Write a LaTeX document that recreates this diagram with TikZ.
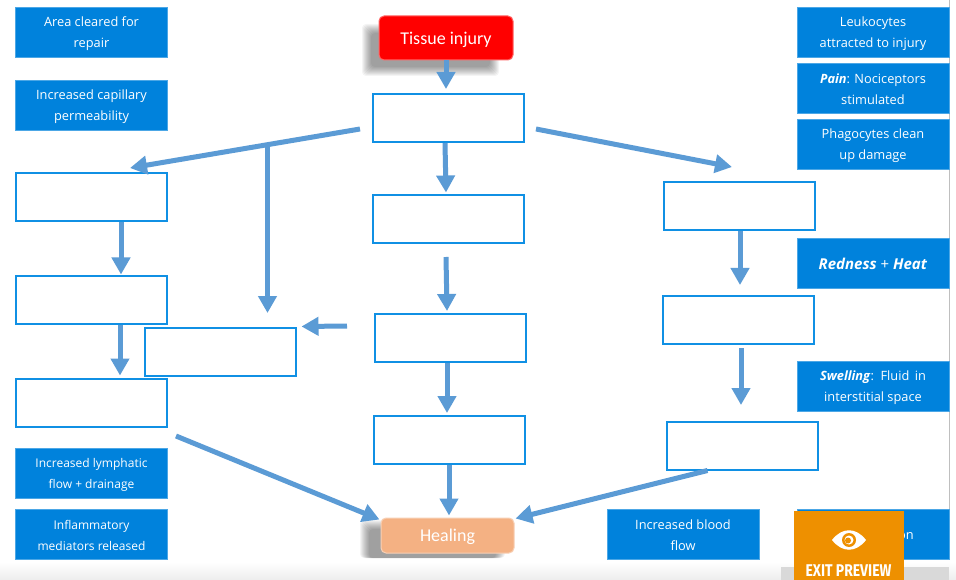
\documentclass[tikz,border=0pt]{standalone}
\usepackage{fontspec}
\setmainfont{Open Sans}
\newfontfamily\calibrifont{Carlito}
\newfontfamily\exitfont{Fira Sans}
\usepackage{tikz}
\usetikzlibrary{arrows.meta}
\definecolor{panelblue}{HTML}{0082DC}
\definecolor{edgeblue}{HTML}{1090E4}
\definecolor{arrowblue}{HTML}{5B9BD5}
\definecolor{exitorange}{HTML}{EE9000}
\definecolor{healpeach}{HTML}{F4B183}
\tikzset{
  plainblue/.style={fill=panelblue,draw=panelblue!70!white,line width=0.4pt,text=white,minimum width=152pt,minimum height=49.5pt,inner sep=0pt,align=center,font=\fontsize{12.8}{21}\selectfont},
  bluebox/.style={plainblue,execute at begin node={\rule{0pt}{33.5pt}}},
  smallblue/.style={bluebox,font=\fontsize{12}{21}\selectfont},
  emptybox/.style={draw=edgeblue,fill=white,line width=2pt,minimum width=151pt,minimum height=48pt,inner sep=0pt},
  flowarrow/.style={draw=arrowblue,line width=5pt,-{Triangle[length=17pt,width=18pt]}},
  startbox/.style={rounded corners=5pt,draw=#1!60!white,fill=#1,line width=1pt,text=white,inner sep=0pt,font=\calibrifont\fontsize{18}{20}\selectfont},
}
\begin{document}
\begin{tikzpicture}[x=1pt,y=-1pt]
\useasboundingbox (0,0) rectangle (956,580);

% Page background
\fill[white] (0,0) rectangle (956,580);
\shade[top color=white,bottom color=black!7] (0,562) rectangle (956,580);
\fill[black!15] (781,567) rectangle (949,580);
\draw[black!25,line width=1pt] (949,0) -- (949,512);

% Shadows
\foreach \i in {0,1,...,9} {
  \fill[black,opacity=0.045,rounded corners=4pt] (362+\i,24+\i) rectangle (499-\i,76-\i);
  \fill[black,opacity=0.045,rounded corners=4pt] (360+\i,520+\i) rectangle (505-\i,558);
}

% Side labels
\node[bluebox] (cleared) at (91.5,32) {Area cleared for\\repair};
\node[bluebox] (capillary) at (91.5,105) {Increased capillary\\permeability};
\node[smallblue] (lymphatic) at (91.5,473) {Increased lymphatic\\flow + drainage};
\node[smallblue] (mediators) at (91.5,534) {Inflammatory\\mediators released};
\node[bluebox] (bloodflow) at (683,534) {Increased blood\\flow};
\node[bluebox] (leukocytes) at (873,32) {Leukocytes\\attracted to injury};
\node[bluebox] (pain) at (873,88) {\textbf{\textit{Pain}}: Nociceptors\\stimulated};
\node[bluebox] (phagocytes) at (873,144) {Phagocytes clean\\up damage};
\node[plainblue,font=\fontsize{15}{21}\selectfont] (redness) at (873,263) {\rule{0pt}{13.5pt}\textbf{\textit{Redness}} + \textbf{\textit{Heat}}};
\node[bluebox] (swelling) at (873,386) {\textbf{\textit{Swelling}}:\, Fluid\, in\\interstitial space};
\node[plainblue] (hidden) at (873,534) {};
\node[text=white,font=\fontsize{12.8}{21}\selectfont] (hiddentext) at (906,536) {on};

% Start and end
\node[startbox=red,minimum width=134pt,minimum height=44pt] (injury) at (446,38) {\rule{0pt}{17pt}Tissue injury};
\node[startbox=healpeach,minimum width=133pt,minimum height=35pt] (healing) at (447.5,535.5) {\rule{0pt}{14.5pt}Healing};

% Empty boxes
\node[emptybox] (top) at (448.5,118) {};
\node[emptybox] (midA) at (448.5,219.5) {};
\node[emptybox] (midB) at (450.5,338) {};
\node[emptybox] (midC) at (449.5,440) {};
\node[emptybox] (leftA) at (91,197.5) {};
\node[emptybox] (leftB) at (91,299.5) {};
\node[emptybox] (leftC) at (91,402.5) {};
\node[emptybox] (leftD) at (220,351.5) {};
\node[emptybox] (rightA) at (739.5,206.5) {};
\node[emptybox] (rightB) at (738.5,319.5) {};
\node[emptybox] (rightC) at (742.5,445.5) {};

% Free arrow ends
\coordinate (fanL) at (360,129);
\coordinate (fanLtip) at (130,168);
\coordinate (branch) at (267.5,145);
\coordinate (branchtip) at (267.5,313);
\coordinate (fanR) at (536,129);
\coordinate (fanRtip) at (732,167);
\coordinate (midBin) at (446,257);
\coordinate (leftDin) at (347,326);
\coordinate (rightBin) at (740,285);
\coordinate (rightCout) at (741,348);
\coordinate (rightCin) at (741,405);
\coordinate (leftCout) at (176,436);

% Arrows
\draw[flowarrow] (injury.south) -- ([xshift=-2.5pt,yshift=4pt]top.north);
\draw[flowarrow] (fanL) -- (fanLtip);
\draw[flowarrow] (branch) -- (branchtip);
\draw[flowarrow] (fanR) -- (fanRtip);
\draw[flowarrow] ([xshift=-3.5pt]top.south) -- ([xshift=-2.5pt,yshift=2pt]midA.north);
\draw[flowarrow] (midBin) -- ([xshift=-3.5pt,yshift=2pt]midB.north);
\draw[flowarrow] ([xshift=-3.5pt]midB.south) -- ([xshift=-2.5pt,yshift=2pt]midC.north);
\draw[flowarrow] ([xshift=-0.5pt]midC.south) -- ([xshift=1.5pt,yshift=2pt]healing.north);
\draw[flowarrow] ([xshift=30pt]leftA.south) -- ([xshift=30pt]leftB.north);
\draw[flowarrow] ([xshift=29pt]leftB.south) -- ([xshift=29pt,yshift=2pt]leftC.north);
\draw[flowarrow] (leftDin) -- ([xshift=5pt]leftD.north east);
\draw[flowarrow] (leftCout) -- ([xshift=-1pt,yshift=-2pt]healing.north west);
\draw[flowarrow] ([xshift=0.5pt]rightA.south) -- (rightBin);
\draw[flowarrow] (rightCout) -- (rightCin);
\draw[flowarrow] ([xshift=-35pt]rightC.south) -- ([xshift=1pt,yshift=-1pt]healing.north east);

% Exit preview button
\fill[exitorange] (794,511) rectangle (904,580);
\fill[white] (832,540) .. controls (842,527) and (856,527) .. (866,540) .. controls (856,553) and (842,553) .. (832,540) -- cycle;
\fill[exitorange] (849,540) circle (7pt);
\fill[white] (849,540) circle (4.5pt);
\fill[exitorange] (848,540.5) circle (3pt);
\node[text=white,font=\exitfont\bfseries\fontsize{17}{17}\selectfont,xscale=0.82,transform shape] (exit) at (848.5,571) {EXIT PREVIEW};
\end{tikzpicture}
\end{document}
